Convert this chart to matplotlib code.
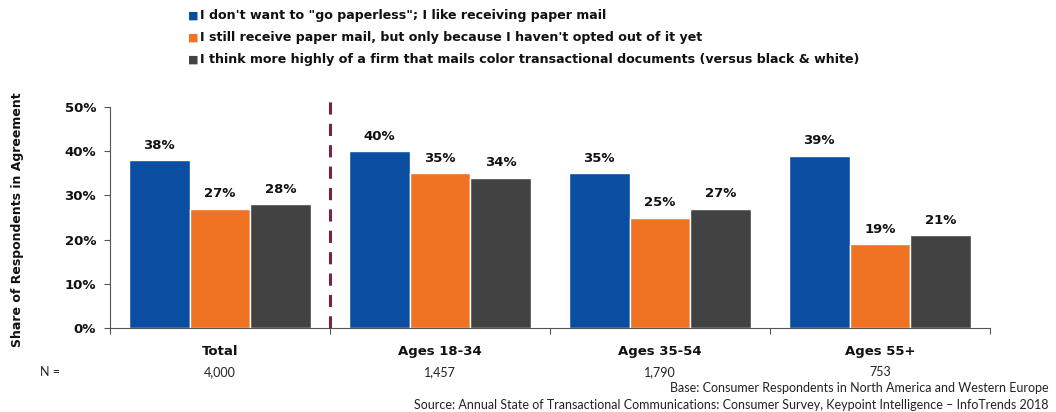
import matplotlib
matplotlib.use("Agg")
import matplotlib.pyplot as plt
import numpy as np

# Survey results (share of respondents agreeing, %)
groups = ["Total", "Ages 18-34", "Ages 35-54", "Ages 55+"]
sample_sizes = ["4,000", "1,457", "1,790", "753"]
series_names = [
    "I don't want to \"go paperless\"; I like receiving paper mail",
    "I still receive paper mail, but only because I haven't opted out of it yet",
    "I think more highly of a firm that mails color transactional documents (versus black & white)",
]
go_paperless_no = [38, 40, 35, 39]
not_opted_out = [27, 35, 25, 19]
color_docs = [28, 34, 27, 21]
y_ticks = [0, 10, 20, 30, 40, 50]

colors = ["#0A4EA2", "#F07223", "#424242"]
values = [go_paperless_no, not_opted_out, color_docs]

plt.rcParams["font.family"] = ["Lato", "DejaVu Sans"]
BOLD = ["DejaVu Sans"]

fig = plt.figure(figsize=(10.56, 4.12), dpi=100)
ax = fig.add_axes([110 / 1056, 1 - 328 / 412, (990 - 110) / 1056, (328 - 107) / 412])

x = np.arange(len(groups))
width = 0.277
for i, (vals, col) in enumerate(zip(values, colors)):
    pos = x + (i - 1) * width
    ax.bar(pos, vals, width=width, color=col, edgecolor="white", linewidth=1.0, zorder=2)
    for px, v in zip(pos, vals):
        ax.annotate(f"{v}%", (px, v), xytext=(0, 6), textcoords="offset points",
                    ha="center", va="bottom", fontsize=9.5, fontweight="bold",
                    color="#111111", family=BOLD)

ax.set_xlim(-0.5, len(groups) - 0.5)
ax.set_ylim(0, 50)
ax.set_yticks(y_ticks)
ax.set_yticklabels([f"{t}%" for t in y_ticks], fontsize=9.5, fontweight="bold",
                   color="#111111", family=BOLD)

# Ticks at group boundaries on the x-axis, labels at group centres
ax.set_xticks(np.arange(len(groups) + 1) - 0.5)
ax.set_xticklabels([])
ax.set_xticks(x, minor=True)
ax.set_xticklabels(groups, minor=True, fontsize=9.5, fontweight="bold", color="#111111",
                   family=BOLD)
ax.tick_params(axis="x", which="minor", length=0, pad=12)
ax.tick_params(axis="x", which="major", length=4, direction="out", color="#555555")
ax.tick_params(axis="y", length=4, direction="out", color="#555555", pad=6)

for s in ["top", "right"]:
    ax.spines[s].set_visible(False)
for s in ["left", "bottom"]:
    ax.spines[s].set_color("#555555")

# Divider between total and age breakdowns
ax.plot([0.5, 0.5], [0, 51.5], linestyle=(0, (4, 3)), color="#7B2347", linewidth=2.2,
        clip_on=False, zorder=3)

fig.text(18 / 1056, 1 - 220 / 412, "Share of Respondents in Agreement", fontsize=9,
         fontweight="bold", color="#111111", family=BOLD, rotation=90,
         ha="center", va="center")

# Legend as coloured squares with text
legend_y = [16, 38, 60]
for name, col, yy in zip(series_names, colors, legend_y):
    fig.text(188 / 1056, 1 - yy / 412, "■", color=col, fontsize=8, va="center", ha="left",
             family=BOLD)
    fig.text(200 / 1056, 1 - yy / 412, name, fontsize=9.1, fontweight="bold", color="#111111",
             va="center", ha="left", family=BOLD)

# Sample sizes row
fig.text(40 / 1056, 1 - 372 / 412, "N =", fontsize=9, color="#222222", va="center", ha="left")
for i, n in enumerate(sample_sizes):
    xf = ax.transData.transform((i, 0))[0] / fig.bbox.width
    fig.text(xf, 1 - 372 / 412, n, fontsize=9, color="#222222", va="center", ha="center")

fig.text(1049 / 1056, 1 - 388 / 412,
         "Base: Consumer Respondents in North America and Western Europe",
         fontsize=9, color="#222222", va="center", ha="right")
fig.text(1049 / 1056, 1 - 405 / 412,
         "Source: Annual State of Transactional Communications: Consumer Survey, Keypoint Intelligence \u2013 InfoTrends 2018",
         fontsize=9, color="#222222", va="center", ha="right")

fig.savefig("out.png", dpi=100)
